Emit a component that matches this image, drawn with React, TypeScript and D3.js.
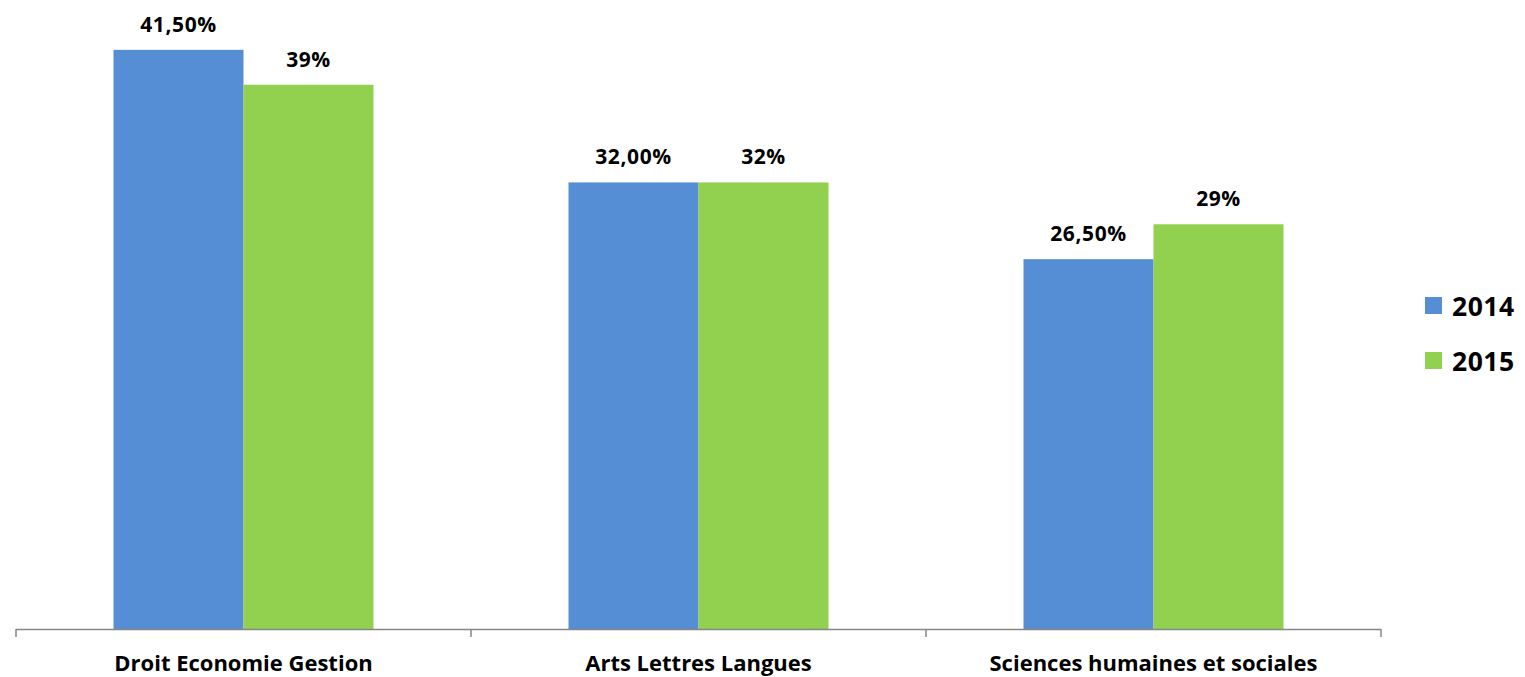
import { useEffect, useRef } from 'react'
import * as d3 from 'd3'

const W = 1525, H = 677
const M = { left: 16, right: 144, top: 1, baseline: 629 }

const CATEGORIES = ['Droit Economie Gestion', 'Arts Lettres Langues', 'Sciences humaines et sociales']
const YEARS = ['2014', '2015']
const VALUES_2014 = [41.5, 32, 26.5]
const VALUES_2015 = [39, 32, 29]
const LABELS_2014 = ['41,50%', '32,00%', '26,50%']
const LABELS_2015 = ['39%', '32%', '29%']

const COLORS = ['#558ED5', '#92D050']
const FONT = '"Open Sans", Calibri, sans-serif'

export default function App() {
  const svgRef = useRef<SVGSVGElement>(null)

  useEffect(() => {
    const svg = d3.select(svgRef.current!)
    svg.selectAll('*').remove()

    const x0 = d3.scaleBand<string>()
      .domain(CATEGORIES)
      .range([M.left, W - M.right])
      .paddingInner(0.4286).paddingOuter(0.2143)

    const x1 = d3.scaleBand<string>().domain(YEARS).range([0, x0.bandwidth()])

    const y = d3.scaleLinear().domain([0, 45]).range([M.baseline, M.top])

    const series = [VALUES_2014, VALUES_2015]
    const labels = [LABELS_2014, LABELS_2015]

    // ── bars ──────────────────────────────────────────────────────────────
    YEARS.forEach((yr, si) => {
      svg.append('g').selectAll('rect')
        .data(CATEGORIES)
        .join('rect')
        .attr('x', (c) => x0(c)! + x1(yr)!)
        .attr('y', (_, i) => y(series[si][i]))
        .attr('width', x1.bandwidth())
        .attr('height', (_, i) => y(0) - y(series[si][i]))
        .attr('fill', COLORS[si])

      svg.append('g').selectAll('text')
        .data(CATEGORIES)
        .join('text')
        .attr('x', (c) => x0(c)! + x1(yr)! + x1.bandwidth() / 2)
        .attr('y', (_, i) => y(series[si][i]) - 18)
        .attr('text-anchor', 'middle')
        .attr('font-family', FONT).attr('font-weight', 700)
        .attr('font-size', 21).attr('letter-spacing', 0.6)
        .attr('fill', '#000')
        .text((_, i) => labels[si][i])
    })

    // ── x axis ────────────────────────────────────────────────────────────
    const step = x0.step()
    const bounds = d3.range(CATEGORIES.length + 1).map(i => M.left + i * step)

    svg.append('line')
      .attr('x1', M.left).attr('x2', W - M.right)
      .attr('y1', M.baseline + 0.5).attr('y2', M.baseline + 0.5)
      .attr('stroke', '#868686').attr('stroke-width', 1.5)

    svg.append('g').selectAll('line')
      .data(bounds)
      .join('line')
      .attr('x1', d => d).attr('x2', d => d)
      .attr('y1', M.baseline).attr('y2', M.baseline + 8)
      .attr('stroke', '#868686').attr('stroke-width', 1.5)

    svg.append('g').selectAll('text')
      .data(CATEGORIES)
      .join('text')
      .attr('x', c => x0(c)! + x0.bandwidth() / 2)
      .attr('y', 671)
      .attr('text-anchor', 'middle')
      .attr('font-family', FONT).attr('font-weight', 700)
      .attr('font-size', 22)
      .attr('fill', '#000')
      .text(c => c)

    // ── legend ────────────────────────────────────────────────────────────
    const lg = svg.append('g').selectAll('g')
      .data(YEARS)
      .join('g')
      .attr('transform', (_, i) => `translate(1425,${297 + i * 55})`)

    lg.append('rect').attr('width', 17).attr('height', 17).attr('fill', (_, i) => COLORS[i])
    lg.append('text')
      .attr('x', 27).attr('y', 18.5)
      .attr('font-family', FONT).attr('font-weight', 700)
      .attr('font-size', 26.5).attr('letter-spacing', 0.5)
      .attr('fill', '#000')
      .text(d => d)
  }, [])

  return (
    <svg
      ref={svgRef}
      width={W}
      height={H}
      viewBox={`0 0 ${W} ${H}`}
      style={{ position: 'absolute', left: 0, top: 0, background: '#fff' }}
    />
  )
}
